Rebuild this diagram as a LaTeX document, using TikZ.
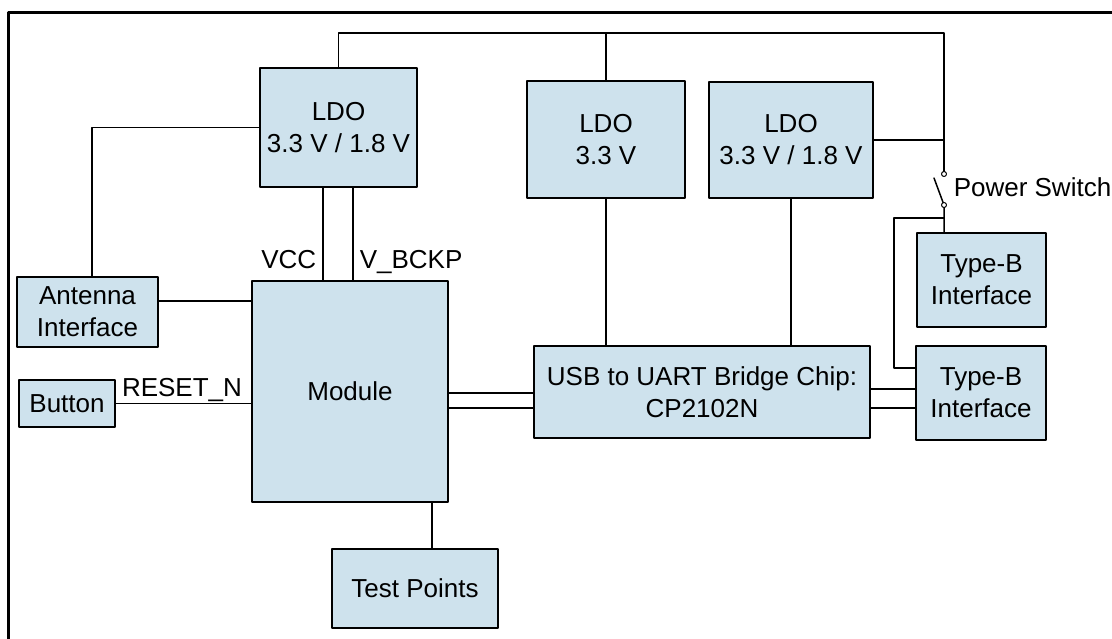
\documentclass[tikz,border=0pt]{standalone}
\usepackage{fontspec}
\setmainfont{Liberation Sans}
\definecolor{boxblue}{RGB}{206,226,237}
\tikzset{
  blk/.style={draw, fill=boxblue, line width=1.5pt, inner sep=0pt, align=center},
  lbl/.style={inner sep=0pt},
  contact/.style={draw, fill=white, line width=1pt}
}
\begin{document}
\begin{tikzpicture}[x=1pt, y=-1pt, line width=1.5pt, line join=round, line cap=round, font=\fontsize{26}{32}\selectfont]
\clip (0,0) rectangle (1112,639);
\draw[line width=3pt] (8,12.5) rectangle (1200,700);
% blocks
\node[blk, minimum width=157pt, minimum height=119pt] (ldoa) at (338.5,127.5) {LDO\\3.3 V / 1.8 V};
\node[blk, minimum width=158pt, minimum height=117pt] (ldob) at (606,139.5) {LDO\\3.3 V};
\node[blk, minimum width=164pt, minimum height=116pt] (ldoc) at (791,140) {LDO\\3.3 V / 1.8 V};
\node[blk, minimum width=141pt, minimum height=70pt] (ant) at (87.5,312) {Antenna\\Interface};
\node[blk, minimum width=96pt, minimum height=47pt] (btn) at (67,403.5) {Button};
\node[blk, minimum width=196pt, minimum height=221pt] (mod) at (350,391.5) {Module};
\node[blk, minimum width=166pt, minimum height=79pt] (tp) at (415,588.5) {Test Points};
\node[blk, minimum width=336pt, minimum height=92pt] (usb) at (702,392) {USB to UART Bridge Chip:\\CP2102N};
\node[blk, minimum width=129pt, minimum height=94pt] (tba) at (981.5,280) {Type-B\\Interface};
\node[blk, minimum width=130pt, minimum height=94pt] (tbb) at (981,393) {Type-B\\Interface};
\path
(338.5,33) coordinate (busL)
(944,33) coordinate (busR)
(944,174) coordinate (swA)
(944,205) coordinate (swB)
(934,178) coordinate (blade)
(944,218) coordinate (swJ)
(894,218) coordinate (tbJ)
;
% supply
\draw (ldoa.north) -- (busL) -- (busR) -- (swA);
\draw (ldob.north) -- (ldob.north |- busL);
\draw (ldoc.east) -- (ldoc.east -| busR);
\draw (blade) -- (swB) -- (swB |- tba.north);
\draw (swJ) -- (tbJ) |- ([yshift=25pt]tbb.west);
\foreach \x in {323,353} \draw (ldoa.south -| \x,0) -- (mod.north -| \x,0);
\draw (ldob.south) -- (ldob.south |- usb.north);
\draw (ldoc.south) -- (ldoc.south |- usb.north);
% signals
\draw (ldoa.west) -| ([xshift=4.5pt]ant.north);
\draw (ant.east |- 0,301) -- (mod.west |- 0,301);
\draw (btn.east) -- (btn.east -| mod.west);
\foreach \y in {393,408} \draw (mod.east |- 0,\y) -- (usb.west |- 0,\y);
\foreach \y in {389,408} \draw (usb.east |- 0,\y) -- (tbb.west |- 0,\y);
\draw (mod.south -| 432,0) -- (tp.north -| 432,0);
\foreach \p in {swA,swB} \draw[contact] (\p) circle (2.5pt);
% labels
\node[lbl, anchor=base east] (vcc) at (317,269) {VCC};
\node[lbl, anchor=base west] (vbk) at (359,269) {V\_BCKP};
\node[lbl, anchor=base] (rst) at (182,396) {RESET\_N};
\node[lbl, anchor=base west] (psw) at (953,197) {Power Switch};
\end{tikzpicture}
\end{document}
